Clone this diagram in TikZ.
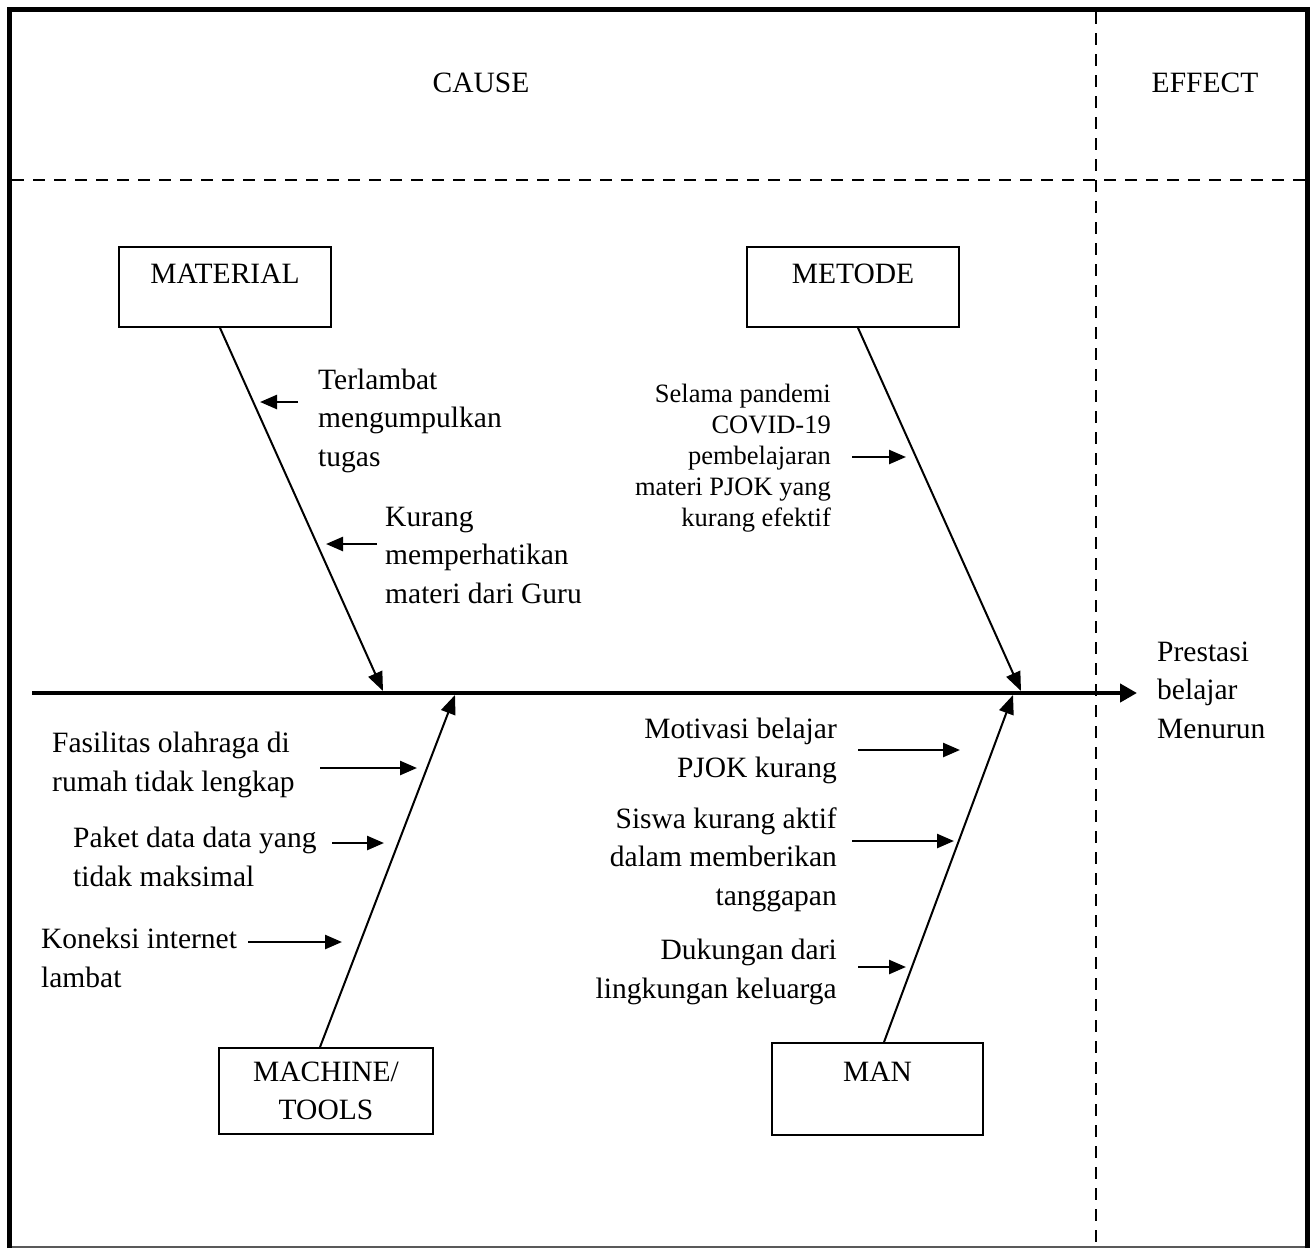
\documentclass[tikz,border=0pt]{standalone}
\usepackage{fontspec}
\setmainfont{Liberation Serif}
\usetikzlibrary{arrows.meta}
\begin{document}
\begin{tikzpicture}[x=1pt,y=-1pt,
  txt/.style={inner sep=0pt,font=\fontsize{29.5}{38.5}\selectfont},
  smalltxt/.style={inner sep=0pt,font=\fontsize{26.5}{30.8}\selectfont},
  catbox/.style={draw,line width=1.8pt,inner sep=0pt,minimum width=212pt,font=\fontsize{29.5}{38.5}\selectfont},
  branch/.style={line width=2pt,-{Triangle[length=19pt,width=15pt]}},
  cause/.style={line width=2.5pt,-{Triangle[length=17pt,width=14pt]}},
  spine/.style={line width=4.5pt,-{Triangle[length=17pt,width=18pt]}},
  sep/.style={line width=1.8pt,dash pattern=on 12pt off 9pt},
  line join=miter]
\useasboundingbox (0,0) rectangle (1314,1248);
% frame
\draw[line width=1.5pt,black!65] (9.5,1247) -- (1307.5,1247);
\draw[line width=5pt] (9.5,1248) -- (9.5,9.5) -- (1307.5,9.5) -- (1307.5,1248);
% separators
\draw[sep] (12,180) -- (1305,180);
\draw[sep] (1096,12) -- (1096,1247);
% headings
\node[txt,anchor=base] (cause) at (481,92) {CAUSE};
\node[txt,anchor=base] (effect) at (1205,92) {EFFECT};
% category boxes
\node[catbox,minimum height=80pt,text height=20pt,text depth=28pt] (mat) at (225,287) {MATERIAL};
\node[catbox,minimum height=80pt,text height=20pt,text depth=28pt] (met) at (853,287) {METODE};
\node[catbox,minimum width=214pt,minimum height=86pt,align=center] (mac) at (326,1091) {MACHINE/\\TOOLS};
\node[catbox,minimum width=211pt,minimum height=92pt,text height=20pt,text depth=36pt] (man) at (877.5,1089) {MAN};
% effect text
\node[txt,anchor=base west,align=left] (eff) at (1157,738) {Prestasi\\belajar\\Menurun};
% spine
\coordinate (s0) at (32,693);
\coordinate (s1) at (1137,693);
\draw[spine] (s0) -- (s1);
% branch tips
\coordinate (tmat) at (383,691);
\coordinate (tmet) at (1021,691);
\coordinate (tmac) at (455,695);
\coordinate (tman) at (1013,695);
\draw[branch] ([xshift=-5pt]mat.south) -- (tmat);
\draw[branch] ([xshift=5pt]met.south) -- (tmet);
\draw[branch] ([xshift=-6pt]mac.north) -- (tmac);
\draw[branch] ([xshift=6.5pt]man.north) -- (tman);
% material causes
\node[txt,anchor=base west,align=left] (c1) at (318,466) {Terlambat\\mengumpulkan\\tugas};
\node[txt,anchor=base west,align=left] (c2) at (385,603) {Kurang\\memperhatikan\\materi dari Guru};
\coordinate (a1s) at (298,402); \coordinate (a1e) at (260,402);
\coordinate (a2s) at (377,544); \coordinate (a2e) at (326,544);
\draw[cause] (a1s) -- (a1e);
\draw[cause] (a2s) -- (a2e);
% metode cause
\node[smalltxt,anchor=base east,align=right] (c3) at (831,526) {Selama pandemi\\COVID-19\\pembelajaran\\materi PJOK yang\\kurang efektif};
\coordinate (a3s) at (852,457); \coordinate (a3e) at (906,457);
\draw[cause] (a3s) -- (a3e);
% machine causes
\node[txt,anchor=base west,align=left] (c4) at (52,791) {Fasilitas olahraga di\\rumah tidak lengkap};
\node[txt,anchor=base west,align=left] (c5) at (73,886) {Paket data data yang\\tidak maksimal};
\node[txt,anchor=base west,align=left] (c6) at (41,987) {Koneksi internet\\lambat};
\coordinate (a4s) at (320,768); \coordinate (a4e) at (417,768);
\coordinate (a5s) at (332,843); \coordinate (a5e) at (384,843);
\coordinate (a6s) at (248,942); \coordinate (a6e) at (342,942);
\draw[cause] (a4s) -- (a4e);
\draw[cause] (a5s) -- (a5e);
\draw[cause] (a6s) -- (a6e);
% man causes
\node[txt,anchor=base east,align=right] (c7) at (837,777) {Motivasi belajar\\PJOK kurang};
\node[txt,anchor=base east,align=right] (c8) at (837,905) {Siswa kurang aktif\\dalam memberikan\\tanggapan};
\node[txt,anchor=base east,align=right] (c9) at (837,998) {Dukungan dari\\lingkungan keluarga};
\coordinate (a7s) at (858,750); \coordinate (a7e) at (960,750);
\coordinate (a8s) at (852,841); \coordinate (a8e) at (954,841);
\coordinate (a9s) at (858,967); \coordinate (a9e) at (906,967);
\draw[cause] (a7s) -- (a7e);
\draw[cause] (a8s) -- (a8e);
\draw[cause] (a9s) -- (a9e);
\end{tikzpicture}
\end{document}
